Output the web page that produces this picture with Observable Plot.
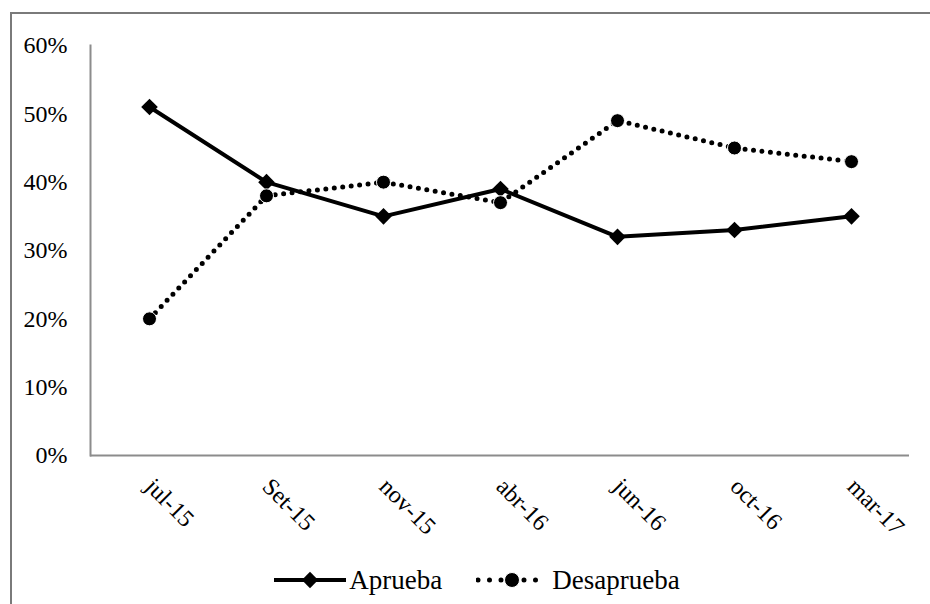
<!DOCTYPE html>
<html>
<head>
<meta charset="utf-8">
<script src="https://cdn.jsdelivr.net/npm/d3@7"></script>
<script src="https://cdn.jsdelivr.net/npm/@observablehq/plot@0.6"></script>
<style>
  html, body { margin: 0; padding: 0; background: #fff; }
  body { width: 930px; height: 604px; overflow: hidden; position: relative; font-family: "Liberation Serif", "DejaVu Serif", "Times New Roman", serif; }
  #frame { position: absolute; left: 10px; top: 12px; width: 940px; height: 620px; border-top: 2px solid #7a7a7a; border-left: 2px solid #7a7a7a; box-sizing: border-box; }
  #chart { position: absolute; left: 0; top: 0; }
  #chart svg text { font-family: "Liberation Serif", "DejaVu Serif", "Times New Roman", serif; }
  #legend { position: absolute; left: 12px; top: 560px; width: 930px; height: 40px; display: flex; justify-content: center; align-items: center; font-size: 27px; color: #000; }
  #legend .item { display: flex; align-items: center; margin: 0 17px; }
</style>
</head>
<body>
<div id="frame"></div>
<div id="chart"></div>
<div id="legend"></div>
<script>
const months = ["jul-15", "Set-15", "nov-15", "abr-16", "jun-16", "oct-16", "mar-17"];
const aprueba = [0.51, 0.40, 0.35, 0.39, 0.32, 0.33, 0.35];
const desaprueba = [0.20, 0.38, 0.40, 0.37, 0.49, 0.45, 0.43];
const yTicks = [0, 0.1, 0.2, 0.3, 0.4, 0.5, 0.6];
const seriesNames = ["Aprueba", "Desaprueba"];

const data = months.map((m, i) => ({month: m, aprueba: aprueba[i], desaprueba: desaprueba[i]}));
const pct = d3.format(".0%");
const serif = "'Liberation Serif', 'DejaVu Serif', 'Times New Roman', serif";

const chart = Plot.plot({
  width: 930,
  height: 560,
  marginLeft: 90,
  marginRight: 21,
  marginTop: 45,
  marginBottom: 105,
  style: {fontFamily: serif, fontSize: "24px", color: "#000", background: "transparent", overflow: "visible"},
  x: {type: "point", domain: months, padding: 0.5, label: null},
  y: {domain: [0, 0.6], label: null},
  marks: [
    Plot.axisY({ticks: yTicks, tickFormat: pct, tickSize: 0, tickPadding: 23, fontSize: 24, label: null}),
    Plot.axisX({tickSize: 0, tickRotate: 45, tickPadding: 27, fontSize: 24, label: null}),
    Plot.frame({anchor: "left", stroke: "#8c8c8c", strokeWidth: 2}),
    Plot.ruleY([0], {stroke: "#8c8c8c", strokeWidth: 2}),
    Plot.line(data, {x: "month", y: "aprueba", stroke: "#000", strokeWidth: 4}),
    Plot.line(data, {x: "month", y: "desaprueba", stroke: "#000", strokeWidth: 5, strokeDasharray: "0,8.5", strokeLinecap: "round"}),
    Plot.dot(data, {x: "month", y: "aprueba", symbol: "diamond2", r: 7.5, fill: "#000"}),
    Plot.dot(data, {x: "month", y: "desaprueba", symbol: "circle", r: 7, fill: "#000", stroke: "#fff", strokeWidth: 1})
  ]
});
document.getElementById("chart").appendChild(chart);

const legend = document.getElementById("legend");
const ns = "http://www.w3.org/2000/svg";
seriesNames.forEach((name, k) => {
  const item = document.createElement("div");
  item.className = "item";
  const s = document.createElementNS(ns, "svg");
  s.setAttribute("height", 20);
  const ln = document.createElementNS(ns, "line");
  ln.setAttribute("y1", 10); ln.setAttribute("y2", 10);
  ln.setAttribute("stroke", "#000");
  if (k === 0) {
    s.setAttribute("width", 72);
    s.style.marginRight = "3px";
    ln.setAttribute("x1", 0); ln.setAttribute("x2", 72);
    ln.setAttribute("stroke-width", 4);
    s.appendChild(ln);
    const dm = document.createElementNS(ns, "path");
    dm.setAttribute("d", d3.symbol(d3.symbolDiamond2, 170)());
    dm.setAttribute("transform", "translate(36,10)");
    s.appendChild(dm);
  } else {
    s.setAttribute("width", 70);
    s.style.marginRight = "6px";
    ln.setAttribute("x1", 2); ln.setAttribute("x2", 68);
    ln.setAttribute("stroke-width", 5);
    ln.setAttribute("stroke-dasharray", "0,11.5");
    ln.setAttribute("stroke-linecap", "round");
    s.appendChild(ln);
    const c = document.createElementNS(ns, "circle");
    c.setAttribute("cx", 36); c.setAttribute("cy", 10); c.setAttribute("r", 7.5);
    c.setAttribute("stroke", "#fff"); c.setAttribute("stroke-width", 1);
    s.appendChild(c);
  }
  item.appendChild(s);
  const t = document.createElement("span");
  t.textContent = name;
  item.appendChild(t);
  legend.appendChild(item);
});
</script>
</body>
</html>
